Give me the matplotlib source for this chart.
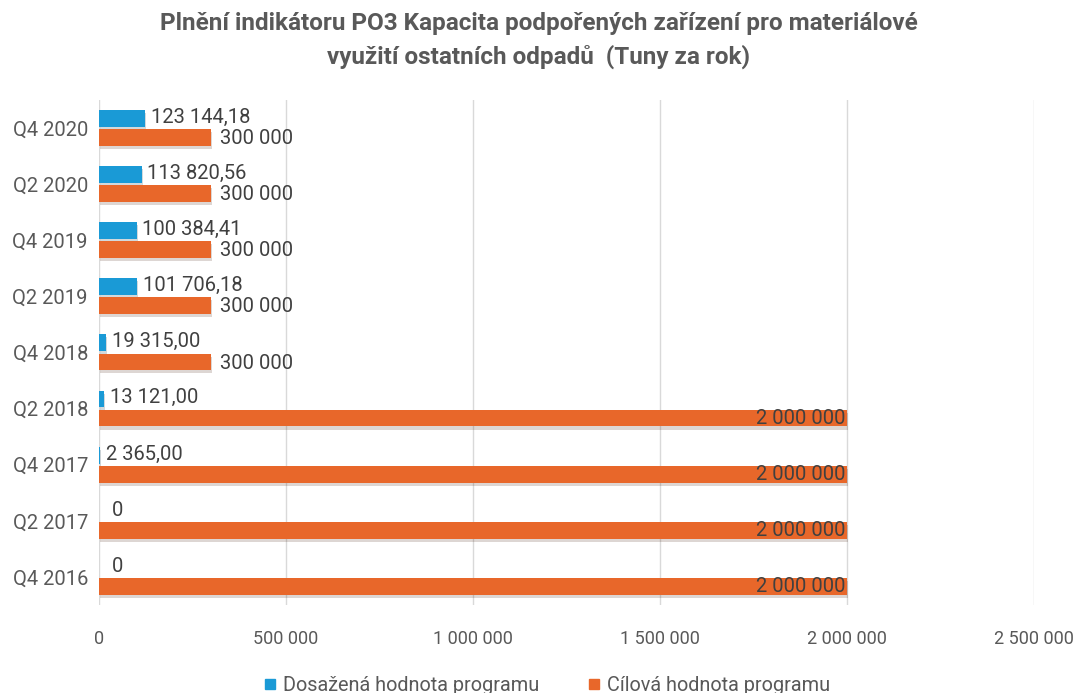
"""Horizontal grouped bar chart: PO3 indicator fulfilment (tonnes per year)."""

import matplotlib.pyplot as plt
import matplotlib.patheffects as pe
import numpy as np
from matplotlib.ticker import FuncFormatter

CATEGORIES = ["Q4 2016", "Q2 2017", "Q4 2017", "Q2 2018", "Q4 2018",
              "Q2 2019", "Q4 2019", "Q2 2020", "Q4 2020"]
ACHIEVED = [0, 0, 2365.00, 13121.00, 19315.00, 101706.18, 100384.41, 113820.56, 123144.18]
TARGET = [2000000, 2000000, 2000000, 2000000, 300000, 300000, 300000, 300000, 300000]

SERIES_NAMES = ["Dosažená hodnota programu", "Cílová hodnota programu"]
TITLE = ("Plnění indikátoru PO3 Kapacita podpořených zařízení pro materiálové\n"
         "využití ostatních odpadů  (Tuny za rok)")

BLUE = "#1a9ad6"
ORANGE = "#e8672a"
TEXT = "#595959"
LABEL = "#404040"
GRID = "#d9d9d9"

plt.rcParams["font.family"] = ["Roboto", "DejaVu Sans"]


def fmt_num(value: float, decimals: int = 0) -> str:
    if value == 0:
        return "0"
    s = f"{value:,.{decimals}f}"
    return s.replace(",", " ").replace(".", ",")


def main() -> None:
    fig = plt.figure(figsize=(10.77, 6.93), dpi=100)
    ax = fig.add_axes([0.092, 0.127, 0.868, 0.729])

    y = np.arange(len(CATEGORIES))
    h = 0.30
    shadow = [pe.SimplePatchShadow(offset=(0.8, -2.2), alpha=0.18), pe.Normal()]

    blue = ax.barh(y + 0.17, ACHIEVED, height=h, color=BLUE, zorder=3)
    orange = ax.barh(y - 0.17, TARGET, height=h, color=ORANGE, zorder=3)
    for bar in list(blue) + list(orange):
        bar.set_path_effects(shadow)

    for yi, v in zip(y, ACHIEVED):
        label = fmt_num(v, 2)
        offset = 9 if v == 0 else 4
        ax.annotate(label, (v, yi + 0.19), xytext=(offset, 0), textcoords="offset points",
                    ha="left", va="center", fontsize=14.5, color=LABEL, zorder=4)

    for yi, v in zip(y, TARGET):
        label = fmt_num(v)
        if v >= 1000000:
            ax.annotate(label, (v, yi - 0.17), xytext=(-1, 0), textcoords="offset points",
                        ha="right", va="center", fontsize=14.5, color=LABEL, zorder=4)
        else:
            ax.annotate(label, (v, yi - 0.19), xytext=(6, 0), textcoords="offset points",
                        ha="left", va="center", fontsize=14.5, color=LABEL, zorder=4)

    ax.set_xlim(0, 2500000)
    ax.set_ylim(-0.5, len(CATEGORIES) - 0.5)
    ax.set_xticks(np.arange(0, 2500001, 500000))
    ax.xaxis.set_major_formatter(FuncFormatter(lambda v, _: fmt_num(v)))
    ax.set_yticks(y)
    ax.set_yticklabels(CATEGORIES)
    ax.tick_params(axis="x", length=0, pad=18, labelsize=13, labelcolor=TEXT)
    ax.tick_params(axis="y", length=0, pad=8, labelsize=14.5, labelcolor=TEXT)
    ax.grid(axis="x", color=GRID, linewidth=1, zorder=0)
    for spine in ax.spines.values():
        spine.set_visible(False)

    fig.suptitle(TITLE, y=0.982, fontsize=17.5, fontweight="bold", color=TEXT, linespacing=1.5)

    handles = [plt.Line2D([], [], marker="s", linestyle="", markersize=7, color=c)
               for c in (BLUE, ORANGE)]
    fig.legend(handles, SERIES_NAMES, loc="lower center", bbox_to_anchor=(0.507, -0.028),
               ncol=2, frameon=False, fontsize=14.3, labelcolor=TEXT,
               handlelength=0.8, handletextpad=0.25, columnspacing=2.4)

    fig.savefig("out.png", dpi=100)
    plt.close(fig)


if __name__ == "__main__":
    main()
